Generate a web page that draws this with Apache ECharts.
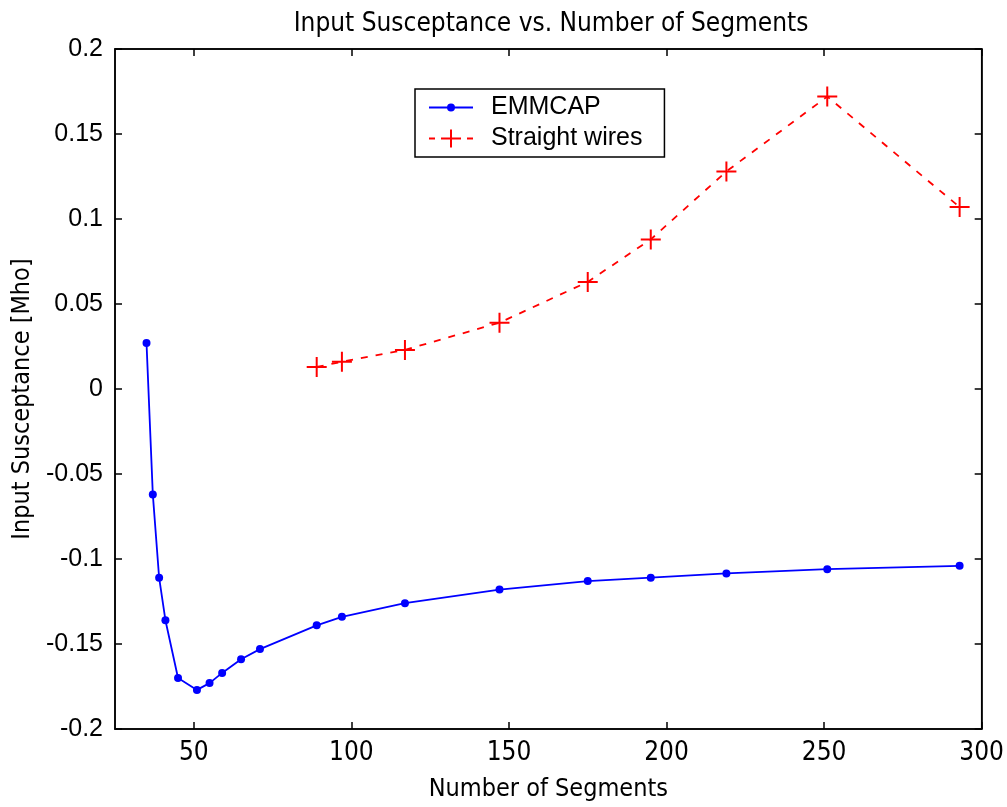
<!DOCTYPE html>
<html>
<head>
<meta charset="utf-8">
<script src="https://cdn.jsdelivr.net/npm/echarts@6/dist/echarts.min.js"></script>
<style>html,body{margin:0;padding:0;background:#fff}#c{width:1007px;height:807px}</style>
</head>
<body>
<div id="c"></div>
<script>
var titleText = 'Input Susceptance vs. Number of Segments';
var xName = 'Number of Segments';
var yName = 'Input Susceptance [Mho]';
var seriesNames = ['EMMCAP', 'Straight wires'];

var emmcapX = [35, 37, 39, 41, 45, 51, 55, 59, 65, 71, 89, 97, 117, 147, 175, 195, 219, 251, 293];
var emmcapY = [0.027, -0.062, -0.111, -0.136, -0.170, -0.177, -0.173, -0.167, -0.159, -0.153, -0.139, -0.134, -0.126, -0.118, -0.113, -0.111, -0.1085, -0.106, -0.104];

var wiresX = [89, 97, 117, 147, 175, 195, 219, 251, 293];
var wiresY = [0.013, 0.016, 0.023, 0.039, 0.063, 0.088, 0.128, 0.172, 0.107];

var xTicks = [50, 100, 150, 200, 250, 300];

function pairs(xs, ys) { return xs.map(function (x, i) { return [x, ys[i]]; }); }

var plusPath = 'path://M4.5,0h1v4.5h4.5v1h-4.5v4.5h-1v-4.5h-4.5v-1h4.5z';
// legend icons (44 x 18 box): line + marker
var corner = 'M0,0h0.01v0.01zM44,18h-0.01v-0.01z';
var iconEmm = 'path://' + corner + 'M0,8.1H44V9.9H0Z M18,9A4,4 0 1 1 26,9A4,4 0 1 1 18,9Z';
var iconWires = 'path://' + corner + 'M0,8.1H6V9.9H0Z M12,8.1H19V9.9H12Z M25,8.1H32V9.9H25Z M38,8.1H44V9.9H38Z M21,0H23V8H31V10H23V18H21V10H13V8H21Z';

var narrow = "'Liberation Sans Narrow','DejaVu Sans Condensed','Liberation Sans',sans-serif";
var sans = "'Liberation Sans',Arial,sans-serif";

var chart = echarts.init(document.getElementById('c'), null, {renderer: 'canvas'});
chart.setOption({
  backgroundColor: '#fff',
  animation: false,
  title: {
    text: titleText, left: 546, top: 6, textAlign: 'center',
    textStyle: {fontFamily: narrow, fontSize: 26, fontWeight: 'normal', color: '#000'}
  },
  legend: {
    orient: 'vertical', left: 415, top: 89,
    backgroundColor: '#fff', borderColor: '#000', borderWidth: 1.5, borderRadius: 0,
    padding: [6, 22, 6, 14], itemGap: 6, itemWidth: 44, itemHeight: 18,
    textStyle: {fontFamily: sans, fontSize: 25, color: '#000', padding: [0, 0, 0, 13]},
    data: [{name: seriesNames[0], icon: iconEmm}, {name: seriesNames[1], icon: iconWires}]
  },
  grid: {left: 115, right: 25, top: 49, bottom: 77, show: true, borderColor: '#000', borderWidth: 1.5},
  xAxis: [{
    type: 'value', min: 25, max: 300, interval: 50,
    name: xName, nameLocation: 'middle', nameGap: 48,
    nameTextStyle: {fontFamily: narrow, fontSize: 25, color: '#000'},
    axisLine: {show: true, onZero: false, lineStyle: {color: '#000', width: 1.5}},
    axisTick: {show: true, inside: true, length: 7, lineStyle: {color: '#000', width: 1.5},
      customValues: xTicks},
    axisLabel: {fontFamily: narrow, fontSize: 26, color: '#000', margin: 11,
      customValues: xTicks},
    splitLine: {show: false}
  }, {
    type: 'value', min: 25, max: 300, position: 'top',
    axisLine: {show: true, onZero: false, lineStyle: {color: '#000', width: 1.5}},
    axisTick: {show: true, inside: true, length: 7, lineStyle: {color: '#000', width: 1.5},
      customValues: xTicks},
    axisLabel: {show: false}, splitLine: {show: false}
  }],
  yAxis: [{
    type: 'value', min: -0.2, max: 0.2, interval: 0.05,
    name: yName, nameLocation: 'middle', nameGap: 80, nameRotate: 90,
    nameTextStyle: {fontFamily: narrow, fontSize: 25, color: '#000', padding: [0, 20, 0, 0]},
    axisLine: {show: true, onZero: false, lineStyle: {color: '#000', width: 1.5}},
    axisTick: {show: true, inside: true, length: 7, lineStyle: {color: '#000', width: 1.5}},
    axisLabel: {fontFamily: sans, fontSize: 25, color: '#000', margin: 12,
      formatter: function (v) { return String(Math.round(v * 100) / 100); }},
    splitLine: {show: false}
  }, {
    type: 'value', min: -0.2, max: 0.2, interval: 0.05, position: 'right',
    axisLine: {show: true, onZero: false, lineStyle: {color: '#000', width: 1.5}},
    axisTick: {show: true, inside: true, length: 7, lineStyle: {color: '#000', width: 1.5}},
    axisLabel: {show: false}, splitLine: {show: false}
  }],
  series: [{
    name: seriesNames[0], type: 'line', xAxisIndex: 0, yAxisIndex: 0,
    data: pairs(emmcapX, emmcapY),
    symbol: 'circle', symbolSize: 8,
    itemStyle: {color: '#0000ff'},
    lineStyle: {color: '#0000ff', width: 1.8}
  }, {
    name: seriesNames[1], type: 'line', xAxisIndex: 0, yAxisIndex: 0,
    data: pairs(wiresX, wiresY),
    symbol: plusPath, symbolSize: 20,
    itemStyle: {color: '#ff0000'},
    lineStyle: {color: '#ff0000', width: 1.8, type: [7, 8]}
  }]
});
</script>
</body>
</html>
